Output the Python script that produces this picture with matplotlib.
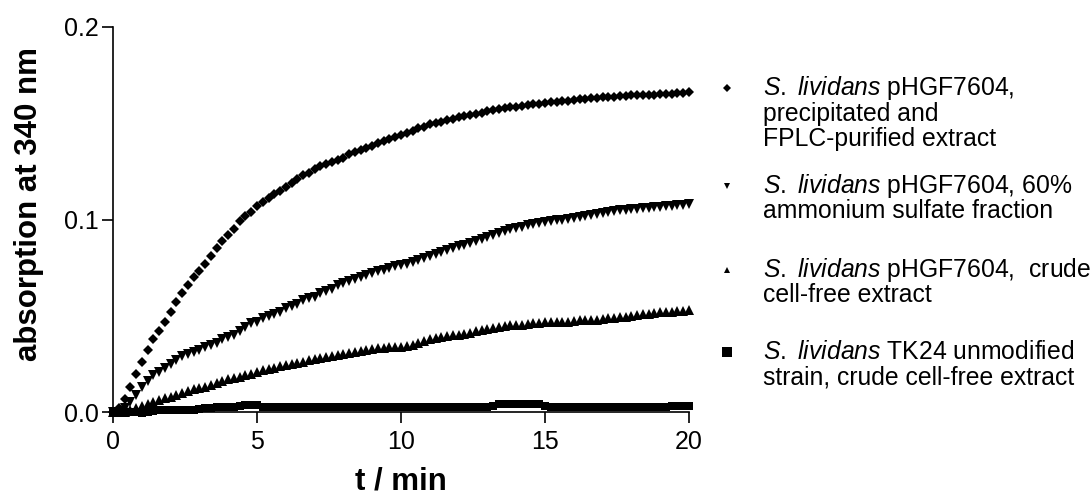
import matplotlib
matplotlib.use('Agg')
import matplotlib.pyplot as plt
from matplotlib.lines import Line2D
import numpy as np

plt.rcParams['font.family'] = ['Liberation Sans', 'DejaVu Sans']
plt.rcParams['mathtext.fontset'] = 'custom'
plt.rcParams['mathtext.rm'] = 'Liberation Sans'
plt.rcParams['mathtext.it'] = 'Liberation Sans:italic'

# sampling times, min
t = np.arange(0, 20.001, 0.2)

# absorption at 340 nm
purified = [0.000, 0.002, 0.007, 0.013, 0.020, 0.026, 0.032, 0.038, 0.042, 0.047,
            0.052, 0.057, 0.062, 0.066, 0.070, 0.073, 0.077, 0.081, 0.085, 0.089,
            0.092, 0.095, 0.099, 0.102, 0.104, 0.107, 0.109, 0.111, 0.113, 0.115,
            0.117, 0.119, 0.121, 0.123, 0.124, 0.126, 0.128, 0.129, 0.130, 0.131,
            0.132, 0.134, 0.135, 0.136, 0.137, 0.138, 0.140, 0.141, 0.142, 0.143,
            0.144,
            0.1448, 0.1462, 0.1473, 0.1483, 0.1495, 0.1502, 0.1508, 0.1516, 0.1522, 0.1530,
            0.1536, 0.1543, 0.1549, 0.1555, 0.1562, 0.1567, 0.1573, 0.1579, 0.1583, 0.1586,
            0.1590, 0.1596, 0.1600, 0.1602, 0.1605, 0.1609, 0.1611, 0.1614, 0.1618, 0.1620,
            0.1624, 0.1627, 0.1630, 0.1633, 0.1635, 0.1637, 0.1638, 0.1641, 0.1643, 0.1645,
            0.1646, 0.1647, 0.1648, 0.1649, 0.1650, 0.1651, 0.1652, 0.1655, 0.1659, 0.1663]

ammonium = [0.000, 0.000, 0.002, 0.005, 0.009, 0.013, 0.016, 0.019, 0.021, 0.023,
            0.025, 0.027, 0.029, 0.030, 0.031, 0.032, 0.034, 0.035, 0.036, 0.038,
            0.039, 0.040, 0.042, 0.044, 0.046, 0.047, 0.049, 0.050, 0.051, 0.052,
            0.054, 0.055, 0.056, 0.058, 0.059, 0.060, 0.062, 0.063, 0.064, 0.066,
            0.067, 0.068, 0.069, 0.070, 0.071, 0.072, 0.073, 0.074, 0.075, 0.076,
            0.0765,
            0.077, 0.078, 0.079, 0.080, 0.081, 0.082, 0.083, 0.084, 0.085, 0.086,
            0.087, 0.088, 0.089, 0.090, 0.091, 0.092, 0.093, 0.094, 0.095, 0.0955,
            0.096, 0.097, 0.0975, 0.098, 0.0985, 0.099, 0.0995, 0.100, 0.1005, 0.101,
            0.1015, 0.102, 0.1025, 0.103, 0.1035, 0.104, 0.1043, 0.1047, 0.105, 0.1053,
            0.1056, 0.1059, 0.106, 0.1063, 0.1066, 0.1069, 0.1072, 0.1074, 0.1076, 0.1078]

crude = [0.000, 0.000, 0.000, 0.001, 0.002, 0.003, 0.004, 0.005, 0.006, 0.0075,
         0.008, 0.009, 0.010, 0.011, 0.012, 0.0125, 0.013, 0.014, 0.015, 0.016,
         0.017, 0.0175, 0.018, 0.019, 0.020, 0.021, 0.022, 0.0225, 0.023, 0.024,
         0.0245, 0.025, 0.0255, 0.026, 0.027, 0.0275, 0.028, 0.0285, 0.029, 0.0295,
         0.030, 0.0305, 0.031, 0.0315, 0.032, 0.0325, 0.033, 0.0333, 0.0337, 0.034,
         0.034,
         0.0345, 0.035, 0.036, 0.037, 0.038, 0.0385, 0.039, 0.0395, 0.040, 0.040,
         0.0405, 0.041, 0.042, 0.0425, 0.043, 0.0435, 0.044, 0.0445, 0.045, 0.045,
         0.0453, 0.0456, 0.046, 0.046, 0.0465, 0.0465, 0.047, 0.047, 0.047, 0.0473,
         0.0476, 0.048, 0.048, 0.048, 0.0485, 0.049, 0.049, 0.0495, 0.0495, 0.050,
         0.0503, 0.0507, 0.051, 0.0515, 0.0518, 0.052, 0.0522, 0.0524, 0.0526, 0.0528]

tk24 = [0.000, 0.000, -0.0005, 0.000, 0.000, -0.0005, 0.000, 0.0005, 0.001, 0.001,
        0.001, 0.001, 0.001, 0.001, 0.001, 0.0015, 0.002, 0.002, 0.0025, 0.0025,
        0.0025, 0.0028, 0.003, 0.0038, 0.0038, 0.0038, 0.0028, 0.0028, 0.0028, 0.0028,
        0.0028, 0.0028, 0.0028, 0.0028, 0.0028, 0.0028, 0.0028, 0.0028, 0.0028, 0.0028,
        0.0028, 0.0028, 0.0028, 0.0028, 0.0028, 0.0028, 0.0028, 0.0028, 0.0028, 0.0028,
        0.0028,
        0.0028, 0.0028, 0.0028, 0.0028, 0.0028, 0.0028, 0.0028, 0.0028, 0.0028, 0.0028,
        0.0028, 0.0028, 0.0028, 0.0028, 0.0028, 0.003, 0.0042, 0.0043, 0.0043, 0.0043,
        0.0043, 0.0043, 0.0043, 0.0042, 0.003, 0.0028, 0.0028, 0.0028, 0.0028, 0.0028,
        0.0028, 0.0028, 0.0028, 0.0028, 0.0028, 0.0028, 0.0028, 0.0028, 0.0028, 0.0028,
        0.0025, 0.0025, 0.0025, 0.0025, 0.0025, 0.0028, 0.003, 0.003, 0.003, 0.003]

series = [purified, ammonium, crude, tk24]
markers = ['D', 'v', '^', 's']
sizes = [5.2, 6.5, 6.5, 6.2]
legend_ms = [3.8, 4.5, 4.5, 6.5]
labels = [[r'$\it{S.\ lividans}$ pHGF7604,', 'precipitated and', 'FPLC-purified extract'],
          [r'$\it{S.\ lividans}$ pHGF7604, 60%', 'ammonium sulfate fraction'],
          [r'$\it{S.\ lividans}$ pHGF7604,  crude', 'cell-free extract'],
          [r'$\it{S.\ lividans}$ TK24 unmodified', 'strain, crude cell-free extract']]

W, H = 1090, 499
fig = plt.figure(figsize=(W / 100, H / 100), dpi=100)
ax = fig.add_axes([113 / W, 1 - 412 / H, 576 / W, 385 / H])

for vals, m, ms in zip(series, markers, sizes):
    ax.plot(t, vals, linestyle='none', marker=m, markersize=ms, color='black',
            markeredgewidth=0, clip_on=False)

ax.set_xlim(0, 20)
ax.set_ylim(0, 0.2)
ax.set_xticks([0, 5, 10, 15, 20])
ax.set_yticks([0.0, 0.1, 0.2])
ax.set_yticklabels(['0.0', '0.1', '0.2'])
for s in ['top', 'right']:
    ax.spines[s].set_visible(False)
for s in ['left', 'bottom']:
    ax.spines[s].set_linewidth(1.2)
ax.tick_params(direction='out', length=8, width=1.2, labelsize=18, color='black')
ax.tick_params(axis='y', pad=2)
ax.tick_params(axis='x', pad=5)
ax.set_xlabel('t / min', fontsize=22.5, fontweight='bold', labelpad=9)
ax.set_ylabel('absorption at 340 nm', fontsize=22.5, fontweight='bold')
ax.yaxis.set_label_coords(-0.12, 0.54)

# legend, drawn by hand so the marker sits on the first line
first_lines = [88, 186, 270, 352]
line_step = 25.5
for y0, lines, m, ms in zip(first_lines, labels, markers, legend_ms):
    fig.add_artist(Line2D([727 / W], [1 - y0 / H], marker=m, markersize=ms,
                          color='black', markeredgewidth=0, linestyle='none'))
    for i, txt in enumerate(lines):
        fig.text(763 / W, 1 - (y0 + i * line_step) / H, txt, fontsize=17.8,
                 va='center', ha='left')

fig.savefig('out.png', dpi=100)
